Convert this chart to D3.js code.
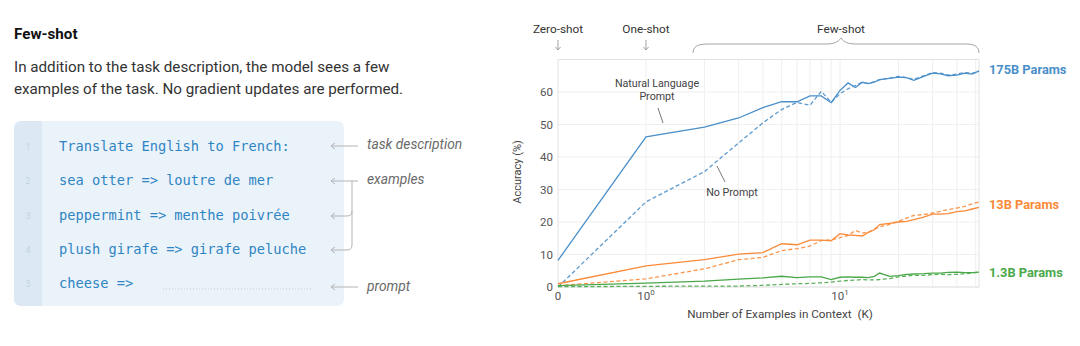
<!DOCTYPE html>
<html><head><meta charset="utf-8">
<script src="https://cdn.jsdelivr.net/npm/d3@7"></script>
<style>body{margin:0;background:#fff} svg{display:block;font-family:Roboto,"Noto Sans",sans-serif}</style>
</head><body><svg id="c" width="1080" height="346"></svg>
<script>
// ---------------- data ----------------
const K = [0,1,2,3,4,5,6,7,8,9,10,11,12,13,14,15,16,18,20,22,24,27,30,33,36,40,44,48,52];
const b175Prompt = [8.2,46.2,49.2,52.0,55.2,57.0,57.0,58.8,58.8,56.7,60.5,62.8,61.4,63.0,62.6,63.0,63.8,64.2,64.6,64.4,63.6,64.8,65.8,65.6,65.0,65.2,65.8,65.5,66.5];
const b175NoPrompt = [0.0,26.2,35.5,44.3,50.5,54.6,56.8,55.9,60.2,56.8,59.5,61.0,62.0,63.0,62.6,63.2,63.8,64.3,64.8,64.4,63.9,65.0,66.0,65.8,65.2,65.5,66.0,65.8,66.3];
const b13Prompt = [1.0,6.5,8.4,10.1,10.6,13.3,13.0,14.4,14.4,14.2,16.4,16.0,15.9,15.7,16.8,17.6,19.2,19.6,20.0,20.2,20.7,21.5,22.4,22.4,22.6,23.2,23.4,24.0,24.5];
const b13NoPrompt = [0.4,2.5,5.6,8.4,9.1,11.2,11.8,12.6,14.3,14.5,15.2,15.9,17.4,16.6,16.9,17.8,18.5,19.3,20.2,21.2,22.0,22.3,22.8,23.3,23.8,24.3,24.8,25.6,26.2];
const b1_3Prompt = [0.4,1.2,1.8,2.4,2.8,3.3,2.9,3.1,3.1,2.3,3.0,3.1,3.0,3.0,2.9,3.3,4.3,3.3,3.5,3.9,4.0,4.1,4.3,4.3,4.5,4.6,4.4,4.4,4.6];
const b1_3NoPrompt = [0.1,0.2,0.3,0.3,0.5,0.8,1.0,1.1,1.3,1.5,1.8,2.0,2.1,2.3,2.2,2.2,2.3,2.6,3.1,3.4,3.6,3.6,3.8,3.9,3.8,3.9,4.1,4.3,4.6];
const modelLabels = ["175B Params","13B Params","1.3B Params"];
const yTicks = [0,10,20,30,40,50,60];
const xTicks = [0,1,10];
const gridK = [1,2,3,4,5,6,7,8,9,10,20,30,40,50];
const codeLines = ["Translate English to French:","sea otter => loutre de mer","peppermint => menthe poivrée","plush girafe => girafe peluche","cheese =>"];
const sideLabels = ["task description","examples","prompt"];
const shotLabels = ["Zero-shot","One-shot","Few-shot"];

// ---------------- setup ----------------
const svg = d3.select("#c");
const colors = ["#4a8fc9","#fb8a38","#4aa84a"];

// ---------------- left panel ----------------
svg.append("text").attr("x",14).attr("y",39).attr("font-size",15.2).attr("font-weight",700).attr("fill","#111").text("Few-shot");
svg.append("text").attr("x",14).attr("y",72).attr("font-size",15.2).attr("fill","#333").text("In addition to the task description, the model sees a few");
svg.append("text").attr("x",14).attr("y",94).attr("font-size",15.2).attr("fill","#333").text("examples of the task. No gradient updates are performed.");

const box = svg.append("g");
box.append("rect").attr("x",14).attr("y",121).attr("width",330).attr("height",185).attr("rx",7).attr("fill","#ebf3fa");
box.append("path").attr("d","M21,121 H42 V306 H21 A7,7 0 0 1 14,299 V128 A7,7 0 0 1 21,121 Z").attr("fill","#dce9f4");
const lineY = d3.scaleLinear().domain([0,4]).range([151,288]);
codeLines.forEach((t,i)=>{
  box.append("text").attr("x",28).attr("y",lineY(i)-1).attr("text-anchor","middle").attr("font-size",9).attr("fill","#c3d3df").text(i+1);
  box.append("text").attr("x",59).attr("y",lineY(i)).attr("font-family","'DejaVu Sans Mono',monospace").attr("font-size",13.7).attr("fill","#2f85c4").text(t);
});
box.append("line").attr("x1",163).attr("x2",312).attr("y1",289).attr("y2",289).attr("stroke","#c8ccd0").attr("stroke-width",1).attr("stroke-dasharray","1,2");

const arr = svg.append("g").attr("fill","none").attr("stroke","#b3b3b3").attr("stroke-width",1);
const arrowYs = [146,181,216,250,287];
arrowYs.forEach(yy=>{ arr.append("path").attr("d",`M335,${yy-3} L331,${yy} L335,${yy+3}`); });
arr.append("path").attr("d",`M358,146 H331`);
arr.append("path").attr("d",`M358,181 H331`);
arr.append("path").attr("d",`M358,287 H331`);
arr.append("path").attr("d",`M352,181 V245 Q352,250 347,250 H331`);
arr.append("path").attr("d",`M352,211 Q352,216 347,216 H331`);
[[149,0],[184,1],[291,2]].forEach(([yy,i])=>{
  svg.append("text").attr("x",367).attr("y",yy).attr("font-size",13.8).attr("font-style","italic").attr("fill","#6a6a6a").text(sideLabels[i]);
});

// ---------------- chart ----------------
const X0 = 558, X1 = 646, XR = 979, YB = 287, YT = 59.5;
const xLin = d3.scaleLinear().domain([0,1]).range([X0,X1]);
const xLog = d3.scaleLog().domain([1,52]).range([X1,XR]);
const x = k => k < 1 ? xLin(k) : xLog(k);
const y = d3.scaleLinear().domain([0,70]).range([YB,YT]);

const grid = svg.append("g").attr("stroke","#efefef").attr("stroke-width",1);
yTicks.forEach(v=>grid.append("line").attr("x1",X0).attr("x2",XR).attr("y1",y(v)).attr("y2",y(v)));
gridK.forEach(k=>{ if(x(k)<=XR) grid.append("line").attr("x1",x(k)).attr("x2",x(k)).attr("y1",YT).attr("y2",YB); });
const frame = svg.append("g").attr("stroke","#e2e2e2").attr("stroke-width",1).attr("fill","none");
frame.append("path").attr("d",`M${X0},${YT} H${XR} V${YB} H${X0} Z`);

// y axis
const yAx = svg.append("g").attr("transform",`translate(${X0},0)`)
  .call(d3.axisLeft(y).tickValues(yTicks).tickSize(0).tickPadding(5));
yAx.select(".domain").remove();
yAx.selectAll("text").attr("font-size",11.5).attr("fill","#555").attr("font-family","Roboto");

// x axis labels
xTicks.forEach(k=>{
  const t = svg.append("text").attr("x",x(k)).attr("y",300).attr("text-anchor","middle").attr("font-size",11.5).attr("fill","#555");
  if(k===0){ t.text("0"); }
  else { t.append("tspan").text("10"); t.append("tspan").attr("dy",-5).attr("font-size",8).text(String(Math.log10(k))); }
});
svg.append("text").attr("x",780).attr("y",318).attr("text-anchor","middle").attr("font-size",11.7).attr("fill","#444").attr("xml:space","preserve").text("Number of Examples in Context  (K)");
svg.append("text").attr("transform","translate(521,172) rotate(-90)").attr("text-anchor","middle").attr("font-size",11).attr("fill","#444").text("Accuracy (%)");

// lines
const line = d3.line().x((d,i)=>x(K[i])).y(d=>y(d)).curve(d3.curveLinear);
const series = [
  {v:b175NoPrompt,c:0,dash:true},{v:b13NoPrompt,c:1,dash:true},{v:b1_3NoPrompt,c:2,dash:true},
  {v:b175Prompt,c:0,dash:false},{v:b13Prompt,c:1,dash:false},{v:b1_3Prompt,c:2,dash:false}
];
series.forEach(s=>{
  svg.append("path").attr("d",line(s.v)).attr("fill","none").attr("stroke",colors[s.c])
    .attr("stroke-width",1.3).attr("stroke-dasharray",s.dash?"4,2.5":null).attr("stroke-opacity",s.dash?0.9:1);
});

// legend labels at line ends
[74,209,277].forEach((yy,i)=>{
  svg.append("text").attr("x",989).attr("y",yy).attr("font-size",12.8).attr("font-weight",700).attr("fill",colors[i]).text(modelLabels[i]);
});

// annotations
const ann = svg.append("g").attr("font-size",10.7).attr("fill","#444").attr("text-anchor","middle");
ann.append("text").attr("x",657).attr("y",87).text("Natural Language");
ann.append("text").attr("x",657).attr("y",100).text("Prompt");
ann.append("text").attr("x",732).attr("y",196).text("No Prompt");
svg.append("line").attr("x1",658).attr("y1",108).attr("x2",663).attr("y2",123).attr("stroke","#777");
svg.append("line").attr("x1",717).attr("y1",166).attr("x2",725).attr("y2",182).attr("stroke","#777");

// top shot labels
const topG = svg.append("g").attr("font-size",11.8).attr("fill","#333").attr("text-anchor","middle");
topG.append("text").attr("x",x(0)).attr("y",33).text(shotLabels[0]);
topG.append("text").attr("x",x(1)).attr("y",33).text(shotLabels[1]);
topG.append("text").attr("x",841).attr("y",33).text(shotLabels[2]);
const ta = svg.append("g").attr("fill","none").attr("stroke","#999").attr("stroke-width",0.9);
[x(0),x(1)].forEach(px=>{
  ta.append("path").attr("d",`M${px},40 V50 M${px-2.5},47 L${px},50 L${px+2.5},47`);
});
ta.append("path").attr("d",`M693,53 C693,47 697,44 708,44 H826 C834,44 838,42 841,38 C844,42 848,44 856,44 H966 C975,44 979,47 979,53`);
</script></body></html>
